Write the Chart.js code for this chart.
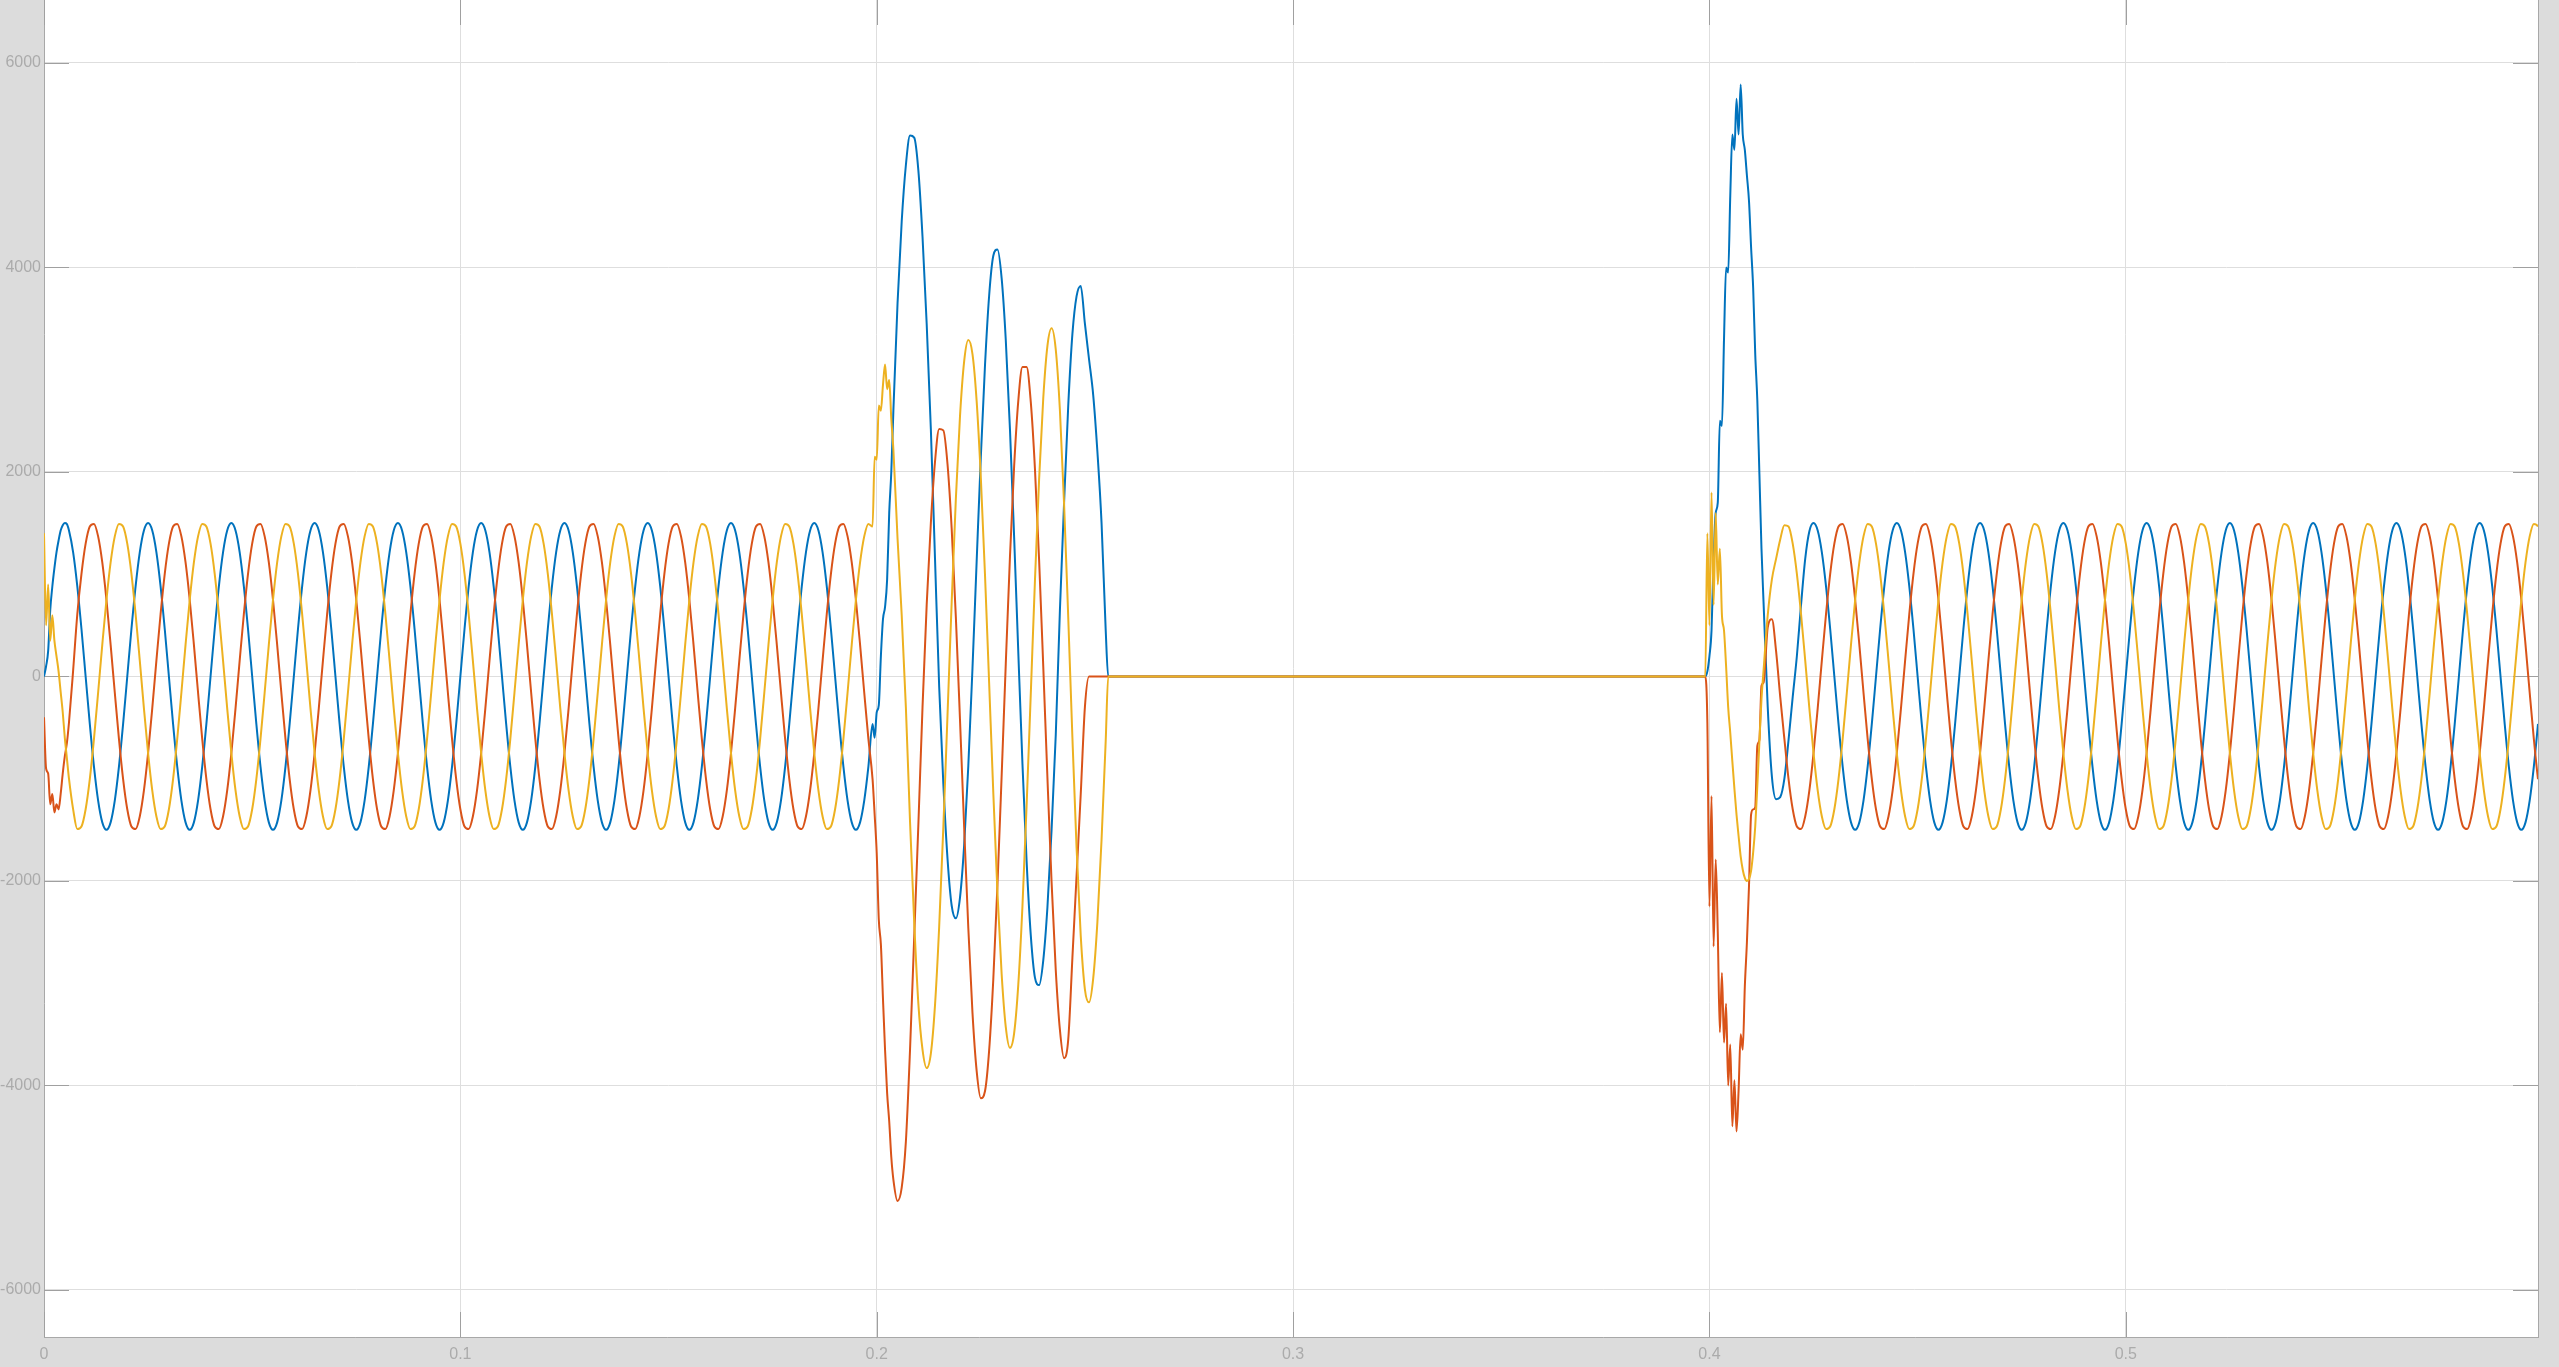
<!DOCTYPE html>
<html>
<head>
<meta charset="utf-8">
<title>Three-phase current</title>
<script src="https://cdn.jsdelivr.net/npm/chart.js@4.4.1/dist/chart.umd.min.js"></script>
<style>
  html, body { margin: 0; padding: 0; background: #dcdcdc; overflow: hidden; }
  canvas { display: block; }
</style>
</head>
<body>
<canvas id="scope" width="2559" height="1367"></canvas>
<script>
// sample times in ms (denser around the two disturbances)
var timeMs = [
  0,0.5,1,1.5,2,2.5,3,3.5,4,4.5,5,5.5,6,
  7,8,9,10,11,12,13,14,15,16,17,18,19,
  20,21,22,23,24,25,26,27,28,29,30,31,32,33,34,35,36,37,38,39,
  40,41,42,43,44,45,46,47,48,49,50,51,52,53,54,55,56,57,58,59,
  60,61,62,63,64,65,66,67,68,69,70,71,72,73,74,75,76,77,78,79,
  80,81,82,83,84,85,86,87,88,89,90,91,92,93,94,95,96,97,98,99,
  100,101,102,103,104,105,106,107,108,109,110,111,112,113,114,115,116,117,118,119,
  120,121,122,123,124,125,126,127,128,129,130,131,132,133,134,135,136,137,138,139,
  140,141,142,143,144,145,146,147,148,149,150,151,152,153,154,155,156,157,158,159,
  160,161,162,163,164,165,166,167,168,169,170,171,172,173,174,175,176,177,178,179,
  180,181,182,183,184,185,186,187,188,189,190,191,192,193,194,195,196,197,198,199,
  199.5,200,200.5,201,201.5,202,202.5,203,203.5,204,
  205,206,207,208,209,210,211,212,213,214,
  215,216,217,218,219,220,221,222,223,224,
  225,226,227,228,229,230,231,232,233,234,
  235,236,237,238,239,240,241,242,243,244,
  245,246,247,248,249,250,251,252,253,254,
  255,
  255.6,399,
  399.5,400,400.5,401,401.5,402,402.5,403,403.5,404,
  404.5,405,405.5,406,406.5,407,407.5,408,408.5,409,
  409.5,410,410.5,411,411.5,412,412.5,
  413,414,415,416,417,418,419,
  420,421,422,423,424,425,426,427,428,429,430,431,432,433,434,435,436,437,438,439,
  440,441,442,443,444,445,446,447,448,449,450,451,452,453,454,455,456,457,458,459,
  460,461,462,463,464,465,466,467,468,469,470,471,472,473,474,475,476,477,478,479,
  480,481,482,483,484,485,486,487,488,489,490,491,492,493,494,495,496,497,498,499,
  500,501,502,503,504,505,506,507,508,509,510,511,512,513,514,515,516,517,518,519,
  520,521,522,523,524,525,526,527,528,529,530,531,532,533,534,535,536,537,538,539,
  540,541,542,543,544,545,546,547,548,549,550,551,552,553,554,555,556,557,558,559,
  560,561,562,563,564,565,566,567,568,569,570,571,572,573,574,575,576,577,578,579,
  580,581,582,583,584,585,586,587,588,589,590,591,592,593,594,595,596,597,598,599,
  600
];

// phase A (blue)
var phaseA = [
  0,100,250,650,880,1060,1214,1330,1427,1480,1500,1490,1427,
  1214,882,464,0,-464,-882,-1214,-1427,-1500,-1427,-1214,-882,-464,
  0,464,882,1214,1427,1500,1427,1214,882,464,0,-464,-882,-1214,-1427,-1500,-1427,-1214,-882,-464,
  0,464,882,1214,1427,1500,1427,1214,882,464,0,-464,-882,-1214,-1427,-1500,-1427,-1214,-882,-464,
  0,464,882,1214,1427,1500,1427,1214,882,464,0,-464,-882,-1214,-1427,-1500,-1427,-1214,-882,-464,
  0,464,882,1214,1427,1500,1427,1214,882,464,0,-464,-882,-1214,-1427,-1500,-1427,-1214,-882,-464,
  0,464,882,1214,1427,1500,1427,1214,882,464,0,-464,-882,-1214,-1427,-1500,-1427,-1214,-882,-464,
  0,464,882,1214,1427,1500,1427,1214,882,464,0,-464,-882,-1214,-1427,-1500,-1427,-1214,-882,-464,
  0,464,882,1214,1427,1500,1427,1214,882,464,0,-464,-882,-1214,-1427,-1500,-1427,-1214,-882,-464,
  0,464,882,1214,1427,1500,1427,1214,882,464,0,-464,-882,-1214,-1427,-1500,-1427,-1214,-882,-464,
  0,464,882,1214,1427,1500,1427,1214,882,464,0,-464,-882,-1214,-1427,-1500,-1427,-1214,-882,-464,
  -600,-350,-280,200,560,680,950,1600,2000,2600,
  3650,4450,5000,5290,5270,4950,4300,3450,2420,1150,
  -100,-1050,-1780,-2240,-2365,-2162,-1650,-873,81,1124,
  2144,3039,3724,4114,4176,3896,3289,2419,1367,240,
  -854,-1808,-2530,-2945,-3018,-2776,-2257,-1499,-573,650,
  1700,2650,3350,3720,3820,3450,3100,2750,2200,1500,
  450,
  0,0,
  50,200,450,1150,1600,1700,2500,2450,3300,4000,
  3950,4700,5300,5150,5650,5300,5790,5300,5150,4900,
  4650,4200,3800,3150,2700,1980,1250,
  720,-300,-980,-1200,-1180,-1000,-620,
  -200,200,700,1150,1420,1500,1427,1214,882,464,0,-464,-882,-1214,-1427,-1500,-1427,-1214,-882,-464,
  0,464,882,1214,1427,1500,1427,1214,882,464,0,-464,-882,-1214,-1427,-1500,-1427,-1214,-882,-464,
  0,464,882,1214,1427,1500,1427,1214,882,464,0,-464,-882,-1214,-1427,-1500,-1427,-1214,-882,-464,
  0,464,882,1214,1427,1500,1427,1214,882,464,0,-464,-882,-1214,-1427,-1500,-1427,-1214,-882,-464,
  0,464,882,1214,1427,1500,1427,1214,882,464,0,-464,-882,-1214,-1427,-1500,-1427,-1214,-882,-464,
  0,464,882,1214,1427,1500,1427,1214,882,464,0,-464,-882,-1214,-1427,-1500,-1427,-1214,-882,-464,
  0,464,882,1214,1427,1500,1427,1214,882,464,0,-464,-882,-1214,-1427,-1500,-1427,-1214,-882,-464,
  0,464,882,1214,1427,1500,1427,1214,882,464,0,-464,-882,-1214,-1427,-1500,-1427,-1214,-882,-464,
  0,464,882,1214,1427,1500,1427,1214,882,464,0,-464,-882,-1214,-1427,-1500,-1427,-1214,-882,-464,
  0
];

// phase B (red)
var phaseB = [
  -400,-900,-950,-1250,-1150,-1330,-1250,-1300,-1150,-950,-780,-650,-450,
  60,610,1004,1299,1467,1492,1370,1115,750,312,-157,-610,-1004,
  -1299,-1467,-1492,-1370,-1115,-750,-312,157,610,1004,1299,1467,1492,1370,1115,750,312,-157,-610,-1004,
  -1299,-1467,-1492,-1370,-1115,-750,-312,157,610,1004,1299,1467,1492,1370,1115,750,312,-157,-610,-1004,
  -1299,-1467,-1492,-1370,-1115,-750,-312,157,610,1004,1299,1467,1492,1370,1115,750,312,-157,-610,-1004,
  -1299,-1467,-1492,-1370,-1115,-750,-312,157,610,1004,1299,1467,1492,1370,1115,750,312,-157,-610,-1004,
  -1299,-1467,-1492,-1370,-1115,-750,-312,157,610,1004,1299,1467,1492,1370,1115,750,312,-157,-610,-1004,
  -1299,-1467,-1492,-1370,-1115,-750,-312,157,610,1004,1299,1467,1492,1370,1115,750,312,-157,-610,-1004,
  -1299,-1467,-1492,-1370,-1115,-750,-312,157,610,1004,1299,1467,1492,1370,1115,750,312,-157,-610,-1004,
  -1299,-1467,-1492,-1370,-1115,-750,-312,157,610,1004,1299,1467,1492,1370,1115,750,312,-157,-610,-1004,
  -1299,-1467,-1492,-1370,-1115,-750,-312,157,610,1004,1299,1467,1492,1370,1115,750,312,-157,-610,-1004,
  -1350,-1730,-2380,-2620,-3150,-3650,-4075,-4350,-4700,-4920,
  -5130,-5000,-4550,-3650,-2550,-1450,-300,700,1500,2100,
  2420,2407,2078,1448,585,-423,-1474,-2463,-3290,-3857,
  -4124,-4057,-3657,-2961,-2038,-975,128,1170,2053,2695,
  3027,3026,2685,2033,1140,96,-991,-2014,-2870,-3457,
  -3733,-3550,-2750,-1950,-1150,-300,0,0,0,0,
  0,
  0,0,
  -450,-2250,-1170,-2640,-1790,-2500,-3480,-2900,-3580,-3200,
  -4000,-3600,-4400,-3950,-4450,-4050,-3500,-3650,-3030,-2600,
  -2050,-1350,-1300,-1280,-680,-620,-90,
  -60,480,560,250,-200,-610,-1004,
  -1299,-1467,-1492,-1370,-1115,-750,-312,157,610,1004,1299,1467,1492,1370,1115,750,312,-157,-610,-1004,
  -1299,-1467,-1492,-1370,-1115,-750,-312,157,610,1004,1299,1467,1492,1370,1115,750,312,-157,-610,-1004,
  -1299,-1467,-1492,-1370,-1115,-750,-312,157,610,1004,1299,1467,1492,1370,1115,750,312,-157,-610,-1004,
  -1299,-1467,-1492,-1370,-1115,-750,-312,157,610,1004,1299,1467,1492,1370,1115,750,312,-157,-610,-1004,
  -1299,-1467,-1492,-1370,-1115,-750,-312,157,610,1004,1299,1467,1492,1370,1115,750,312,-157,-610,-1004,
  -1299,-1467,-1492,-1370,-1115,-750,-312,157,610,1004,1299,1467,1492,1370,1115,750,312,-157,-610,-1004,
  -1299,-1467,-1492,-1370,-1115,-750,-312,157,610,1004,1299,1467,1492,1370,1115,750,312,-157,-610,-1004,
  -1299,-1467,-1492,-1370,-1115,-750,-312,157,610,1004,1299,1467,1492,1370,1115,750,312,-157,-610,-1004,
  -1299,-1467,-1492,-1370,-1115,-750,-312,157,610,1004,1299,1467,1492,1370,1115,750,312,-157,-610,-1004,
  -1299
];

// phase C (yellow)
var phaseC = [
  1400,500,900,350,600,350,200,50,-150,-350,-600,-800,-1000,
  -1300,-1492,-1467,-1299,-1004,-610,-157,312,750,1115,1370,1492,1467,
  1299,1004,610,157,-312,-750,-1115,-1370,-1492,-1467,-1299,-1004,-610,-157,312,750,1115,1370,1492,1467,
  1299,1004,610,157,-312,-750,-1115,-1370,-1492,-1467,-1299,-1004,-610,-157,312,750,1115,1370,1492,1467,
  1299,1004,610,157,-312,-750,-1115,-1370,-1492,-1467,-1299,-1004,-610,-157,312,750,1115,1370,1492,1467,
  1299,1004,610,157,-312,-750,-1115,-1370,-1492,-1467,-1299,-1004,-610,-157,312,750,1115,1370,1492,1467,
  1299,1004,610,157,-312,-750,-1115,-1370,-1492,-1467,-1299,-1004,-610,-157,312,750,1115,1370,1492,1467,
  1299,1004,610,157,-312,-750,-1115,-1370,-1492,-1467,-1299,-1004,-610,-157,312,750,1115,1370,1492,1467,
  1299,1004,610,157,-312,-750,-1115,-1370,-1492,-1467,-1299,-1004,-610,-157,312,750,1115,1370,1492,1467,
  1299,1004,610,157,-312,-750,-1115,-1370,-1492,-1467,-1299,-1004,-610,-157,312,750,1115,1370,1492,1467,
  1299,1004,610,157,-312,-750,-1115,-1370,-1492,-1467,-1299,-1004,-610,-157,312,750,1115,1370,1492,1467,
  2150,2120,2650,2600,2850,3050,2810,2900,2520,2220,
  1350,600,-300,-1420,-2400,-3200,-3650,-3830,-3688,-3214,
  -2448,-1473,-379,725,1732,2544,3082,3290,3153,2693,
  1948,1000,-64,-1137,-2117,-2907,-3430,-3632,-3490,-3014,
  -2247,-1262,-170,935,1928,2723,3234,3406,3198,2601,
  1687,575,-597,-1676,-2537,-3059,-3187,-2951,-2402,-1597,
  -626,
  0,0,
  1400,500,1800,700,1600,900,1250,600,450,100,
  -300,-550,-830,-1100,-1350,-1560,-1760,-1890,-1970,-2000,
  -1980,-1900,-1720,-1465,-1070,-640,-220,
  60,600,950,1150,1340,1480,1467,
  1299,1004,610,157,-312,-750,-1115,-1370,-1492,-1467,-1299,-1004,-610,-157,312,750,1115,1370,1492,1467,
  1299,1004,610,157,-312,-750,-1115,-1370,-1492,-1467,-1299,-1004,-610,-157,312,750,1115,1370,1492,1467,
  1299,1004,610,157,-312,-750,-1115,-1370,-1492,-1467,-1299,-1004,-610,-157,312,750,1115,1370,1492,1467,
  1299,1004,610,157,-312,-750,-1115,-1370,-1492,-1467,-1299,-1004,-610,-157,312,750,1115,1370,1492,1467,
  1299,1004,610,157,-312,-750,-1115,-1370,-1492,-1467,-1299,-1004,-610,-157,312,750,1115,1370,1492,1467,
  1299,1004,610,157,-312,-750,-1115,-1370,-1492,-1467,-1299,-1004,-610,-157,312,750,1115,1370,1492,1467,
  1299,1004,610,157,-312,-750,-1115,-1370,-1492,-1467,-1299,-1004,-610,-157,312,750,1115,1370,1492,1467,
  1299,1004,610,157,-312,-750,-1115,-1370,-1492,-1467,-1299,-1004,-610,-157,312,750,1115,1370,1492,1467,
  1299,1004,610,157,-312,-750,-1115,-1370,-1492,-1467,-1299,-1004,-610,-157,312,750,1115,1370,1492,1467,
  1299
];

var xTicks = [0, 100, 200, 300, 400, 500];   // ms, shown as seconds
var yTicks = [-6000, -4000, -2000, 0, 2000, 4000, 6000];

if (phaseA.length !== timeMs.length || phaseB.length !== timeMs.length || phaseC.length !== timeMs.length) {
  console.warn('length mismatch', timeMs.length, phaseA.length, phaseB.length, phaseC.length);
}

function toPoints(values) {
  return timeMs.map(function (t, i) { return { x: t, y: values[i] }; });
}

var labelFont = { family: '"Liberation Sans", Arial, sans-serif', size: 16 };

// white plot area, inward tick marks and right frame edge (scope look)
var scopeFrame = {
  id: 'scopeFrame',
  beforeDraw: function (chart) {
    var a = chart.chartArea, c = chart.ctx;
    c.save();
    c.fillStyle = '#ffffff';
    c.fillRect(a.left, a.top, a.right - a.left, a.bottom - a.top);
    c.restore();
  },
  beforeDatasetsDraw: function (chart) {
    var a = chart.chartArea, c = chart.ctx;
    var xs = chart.scales.x, ys = chart.scales.y;
    c.save();
    c.strokeStyle = '#a0a0a0';
    c.lineWidth = 1;
    c.beginPath();
    yTicks.forEach(function (v) {
      var y = Math.round(ys.getPixelForValue(v)) + 0.5;
      c.moveTo(a.left, y); c.lineTo(a.left + 25, y);
      c.moveTo(a.right - 25, y); c.lineTo(a.right, y);
    });
    xTicks.forEach(function (v) {
      var x = Math.round(xs.getPixelForValue(v)) + 0.5;
      c.moveTo(x, a.bottom); c.lineTo(x, a.bottom - 25);
      c.moveTo(x, a.top); c.lineTo(x, a.top + 25);
    });
    c.stroke();
    c.strokeStyle = '#a8a8a8';
    c.beginPath();
    c.moveTo(Math.round(a.right) + 0.5, a.top);
    c.lineTo(Math.round(a.right) + 0.5, a.bottom);
    c.stroke();
    c.restore();
  }
};

var ctx = document.getElementById('scope').getContext('2d');
var chart = new Chart(ctx, {
  type: 'line',
  data: {
    datasets: [
      { label: 'Phase C', data: toPoints(phaseC), borderColor: '#EDB120' },
      { label: 'Phase B', data: toPoints(phaseB), borderColor: '#D95319' },
      { label: 'Phase A', data: toPoints(phaseA), borderColor: '#0072BD' }
    ]
  },
  options: {
    responsive: false,
    animation: false,
    layout: { padding: { left: 0, right: 21, top: 0, bottom: 0 } },
    elements: {
      line: { borderWidth: 2, fill: false, cubicInterpolationMode: 'monotone' },
      point: { radius: 0, hoverRadius: 0 }
    },
    plugins: { legend: { display: false }, tooltip: { enabled: false } },
    scales: {
      x: {
        type: 'linear',
        min: 0,
        max: 599,
        afterBuildTicks: function (s) { s.ticks = xTicks.map(function (v) { return { value: v }; }); },
        afterFit: function (s) { s.height = 30; s.paddingLeft = 0; s.paddingRight = 0; },
        grid: { color: '#dedede', lineWidth: 1, drawTicks: false },
        border: { color: '#a8a8a8', width: 1 },
        ticks: {
          color: '#ababab', font: labelFont, padding: 8, maxRotation: 0, autoSkip: false,
          callback: function (v) { return String(v / 1000); }
        }
      },
      y: {
        type: 'linear',
        min: -6460,
        max: 6616,
        afterBuildTicks: function (s) { s.ticks = yTicks.map(function (v) { return { value: v }; }); },
        afterFit: function (s) { s.width = 44; s.paddingTop = 0; s.paddingBottom = 0; },
        grid: { color: '#dedede', lineWidth: 1, drawTicks: false },
        border: { color: '#a8a8a8', width: 1 },
        ticks: {
          color: '#ababab', font: labelFont, padding: 3,
          callback: function (v) { return String(v); }
        }
      }
    }
  },
  plugins: [scopeFrame]
});
</script>
</body>
</html>
